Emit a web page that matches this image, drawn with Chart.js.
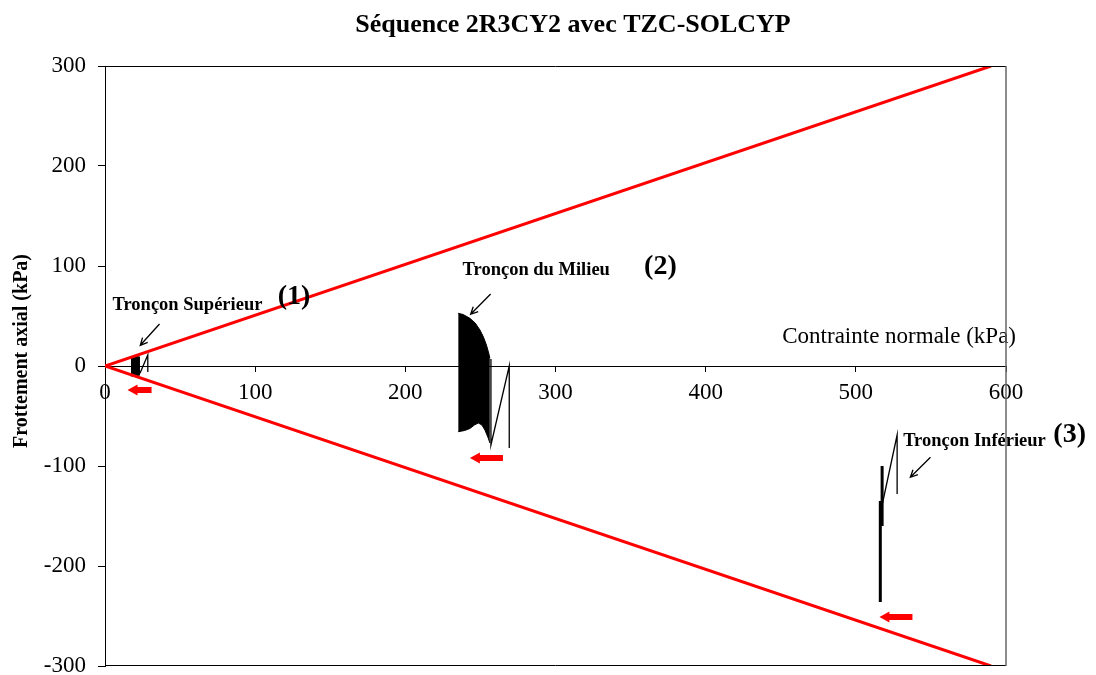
<!DOCTYPE html>
<html>
<head>
<meta charset="utf-8">
<title>Séquence 2R3CY2 avec TZC-SOLCYP</title>
<script src="https://cdn.jsdelivr.net/npm/chart.js@4"></script>
<style>
    body { margin: 0; background: #fff; }
    #wrap { width: 1096px; height: 675px; }
</style>
</head>
<body>
<div id="wrap"><canvas id="chart" width="1096" height="675"></canvas></div>
<script>
// Frottement axial en fonction de la contrainte normale, essai 2R3CY2
const xTicks = [0, 100, 200, 300, 400, 500, 600];
const yTicks = [-300, -200, -100, 0, 100, 200, 300];

// enveloppe de rupture
const envUpper = [[0, 0], [590, 300]];
const envLower = [[0, 0], [590, -300]];

// Tronçon Supérieur : bloc des cycles + fin de chargement
const supTop = [[17.2, 9.5], [20, 9.5], [23.3, 9]];
const supBottom = [[17.2, -10], [20, -10], [23.3, -9]];
const supTail = [[23.3, -7.3], [28.5, 11], [28.5, -6]];

// Tronçon du Milieu
const midTop = [[235.2, 52.7], [238.5, 51.5], [243, 47.7], [246.5, 43], [249.7, 36],
    [252, 29], [254, 21], [255.5, 13], [256.3, 7.7]];
const midBottom = [[235.2, -65.7], [239.5, -64.5], [243, -62.5], [246, -59], [248.6, -57],
    [251, -59], [253, -64], [255.2, -72], [256.3, -77]];
const midTail = [[257, 7], [257, -79], [269.2, 0], [269.2, -82]];

// Tronçon Inférieur
const infA = [[517.5, -100], [517.5, -160]];
const infB = [[516.3, -135], [516.3, -236]];
const infTail = [[516.8, -144], [527.5, -69], [527.5, -128]];

const pts = arr => arr.map(([x, y]) => ({x, y}));

function curve(data, width, extra) {
    return Object.assign({
        data: pts(data),
        borderColor: '#000',
        borderWidth: width,
        pointRadius: 0,
        fill: false
    }, extra || {});
}

Chart.defaults.font.family = "'Liberation Serif', 'Times New Roman', serif";
Chart.defaults.color = '#000';

// textes, flèches et cadre
const annotations = {
    id: 'annotations',
    afterDatasetsDraw(chart) {
        const ctx = chart.ctx;
        const xs = chart.scales.x, ys = chart.scales.y;
        const px = v => xs.getPixelForValue(v);
        const py = v => ys.getPixelForValue(v);
        const area = chart.chartArea;

        ctx.save();
        ctx.fillStyle = '#000';
        ctx.textBaseline = 'middle';

        // titre
        ctx.font = "bold 26px 'Liberation Serif'";
        ctx.textAlign = 'center';
        ctx.fillText('Séquence 2R3CY2 avec TZC-SOLCYP', 573, 25);

        // titre de l'axe vertical
        ctx.save();
        ctx.translate(22, 351);
        ctx.rotate(-Math.PI / 2);
        ctx.font = "bold 20px 'Liberation Serif'";
        ctx.fillText('Frottement axial (kPa)', 0, 0);
        ctx.restore();

        ctx.textAlign = 'left';
        ctx.font = "23px 'Liberation Serif'";
        ctx.fillText('Contrainte normale (kPa)', px(451), py(29));

        const labels = [
            ['Tronçon Supérieur', 5, 61, 18.5],
            ['(1)', 115, 69, 28],
            ['Tronçon du Milieu', 238.1, 95.3, 18.5],
            ['(2)', 359, 99, 28],
            ['Tronçon Inférieur', 531.5, -75.7, 18.5],
            ['(3)', 631.5, -69, 28]
        ];
        labels.forEach(([txt, x, y, size]) => {
            ctx.font = `bold ${size}px 'Liberation Serif'`;
            ctx.fillText(txt, px(x), py(y));
        });

        // flèches fines vers chaque tronçon
        const pointers = [
            [36.3, 42, 23.5, 20.7],
            [256.8, 72, 243.5, 51.7],
            [549.7, -91.3, 536.3, -111.3]
        ];
        ctx.strokeStyle = '#000';
        ctx.lineWidth = 1.3;
        pointers.forEach(([x0, y0, x1, y1]) => {
            const ax = px(x0), ay = py(y0), bx = px(x1), by = py(y1);
            const ang = Math.atan2(by - ay, bx - ax);
            ctx.beginPath();
            ctx.moveTo(ax, ay);
            ctx.lineTo(bx, by);
            ctx.moveTo(bx - 8 * Math.cos(ang - 0.45), by - 8 * Math.sin(ang - 0.45));
            ctx.lineTo(bx, by);
            ctx.lineTo(bx - 8 * Math.cos(ang + 0.45), by - 8 * Math.sin(ang + 0.45));
            ctx.stroke();
        });

        // flèches rouges (sens du chargement)
        const redArrows = [
            [15, 31, -24],
            [243, 265, -92],
            [515.7, 537.7, -251]
        ];
        ctx.fillStyle = '#ff0000';
        redArrows.forEach(([tip, tail, y]) => {
            const tx = px(tip), ex = px(tail), cy = py(y);
            ctx.beginPath();
            ctx.moveTo(tx, cy);
            ctx.lineTo(tx + 10, cy - 5.5);
            ctx.lineTo(tx + 10, cy - 3);
            ctx.lineTo(ex, cy - 3);
            ctx.lineTo(ex, cy + 3);
            ctx.lineTo(tx + 10, cy + 3);
            ctx.lineTo(tx + 10, cy + 5.5);
            ctx.closePath();
            ctx.fill();
        });

        // cadre de la zone de tracé
        ctx.lineWidth = 1;
        ctx.strokeStyle = '#000';
        ctx.beginPath();
        ctx.moveTo(area.left, area.top + 0.5);
        ctx.lineTo(area.right, area.top + 0.5);
        ctx.moveTo(area.left, area.bottom - 0.5);
        ctx.lineTo(area.right, area.bottom - 0.5);
        ctx.stroke();
        ctx.strokeStyle = '#666';
        ctx.lineWidth = 1.5;
        ctx.beginPath();
        ctx.moveTo(area.right, area.top);
        ctx.lineTo(area.right, area.bottom);
        ctx.stroke();
        ctx.restore();
    }
};

new Chart(document.getElementById('chart'), {
    type: 'line',
    data: {
        datasets: [
            curve(envUpper, 3, {borderColor: '#ff0000'}),
            curve(envLower, 3, {borderColor: '#ff0000'}),
            curve(supTop, 1),
            curve(supBottom, 1, {fill: '-1', backgroundColor: '#000'}),
            curve(supTail, 1.3),
            curve(midTop, 1),
            curve(midBottom, 1, {fill: '-1', backgroundColor: '#000'}),
            curve(midTail, 1.3),
            curve(infA, 3),
            curve(infB, 3),
            curve(infTail, 1.3)
        ]
    },
    options: {
        responsive: false,
        animation: false,
        events: [],
        layout: {padding: {top: 66, right: 90, bottom: 9, left: 0}},
        plugins: {
            legend: {display: false},
            tooltip: {enabled: false},
            title: {display: false}
        },
        scales: {
            x: {
                type: 'linear',
                position: {y: 0},
                min: xTicks[0],
                max: xTicks[xTicks.length - 1],
                afterBuildTicks: scale => { scale.ticks = xTicks.map(v => ({value: v})); },
                ticks: {autoSkip: false, maxRotation: 0, padding: 8, font: {size: 23}},
                grid: {drawOnChartArea: false, drawTicks: true, tickLength: 5, color: '#000'},
                border: {color: '#000', width: 1}
            },
            y: {
                type: 'linear',
                min: yTicks[0],
                max: yTicks[yTicks.length - 1],
                afterBuildTicks: scale => { scale.ticks = yTicks.map(v => ({value: v})); },
                afterFit: scale => {
                    scale.width = 105;
                    scale.paddingTop = 0;
                    scale.paddingBottom = 0;
                },
                ticks: {autoSkip: false, padding: 12, font: {size: 23}},
                grid: {drawOnChartArea: false, drawTicks: true, tickLength: 7, color: '#000'},
                border: {color: '#000', width: 1}
            }
        }
    },
    plugins: [annotations]
});
</script>
</body>
</html>
